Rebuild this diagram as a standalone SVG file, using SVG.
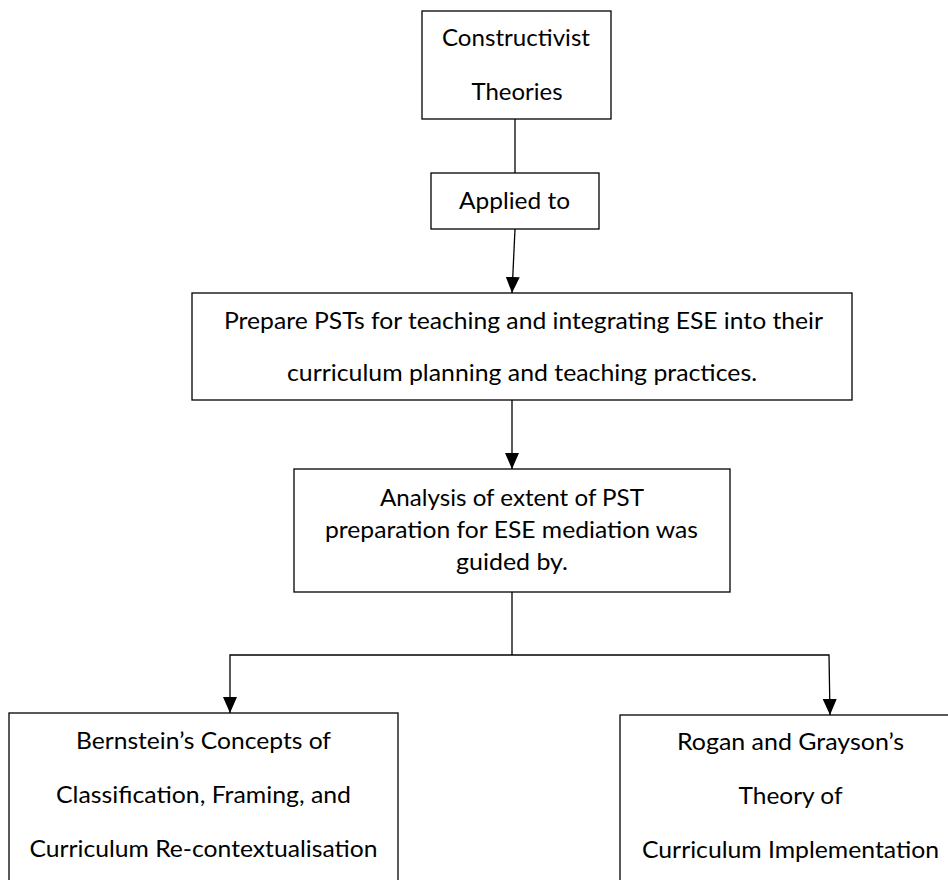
<svg xmlns="http://www.w3.org/2000/svg" width="948" height="880" viewBox="0 0 948 880">
<style>
.box{fill:#fff;stroke:#000;stroke-width:1.3}
.t{font-family:Lato,"Open Sans","Liberation Sans",sans-serif;font-size:24px;fill:#000;text-anchor:middle}
.c{fill:none;stroke:#000;stroke-width:1.3}
</style>
<defs>
<marker id="ah" markerUnits="userSpaceOnUse" markerWidth="14" markerHeight="16" refX="7" refY="15" orient="auto-start-reverse" viewBox="0 0 14 16">
<path d="M0,0 L14,0 L7,15 Z" fill="#000" transform="rotate(-90 7 8)"/>
</marker>
<marker id="arr" markerUnits="userSpaceOnUse" markerWidth="16" markerHeight="14" refX="16" refY="7" orient="auto" viewBox="0 0 16 14">
<path d="M0,0 L16,7 L0,14 Z" fill="#000"/>
</marker>
</defs>
<rect width="948" height="880" fill="#fff"/>
<g id="connectors">
<line class="c" x1="515" y1="119" x2="515" y2="173"/>
<line class="c" x1="515" y1="229" x2="512" y2="293" marker-end="url(#arr)"/>
<line class="c" x1="512" y1="400" x2="512" y2="469" marker-end="url(#arr)"/>
<polyline class="c" points="512,592 512,655"/>
<polyline class="c" points="512,655 230,655 230,713" marker-end="url(#arr)"/>
<polyline class="c" points="512,655 829,655 830,715" marker-end="url(#arr)"/>
</g>
<g id="constructivist">
<rect class="box" x="422" y="11" width="189" height="108"/>
<text class="t" x="516" y="46" textLength="148" lengthAdjust="spacingAndGlyphs">Constructivist</text>
<text class="t" x="517" y="100" textLength="91" lengthAdjust="spacingAndGlyphs">Theories</text>
</g>
<g id="applied">
<rect class="box" x="431" y="173" width="168" height="56"/>
<text class="t" x="514.5" y="209" textLength="111" lengthAdjust="spacingAndGlyphs">Applied to</text>
</g>
<g id="prepare">
<rect class="box" x="192" y="293" width="660" height="107"/>
<text class="t" x="523.5" y="329" textLength="599" lengthAdjust="spacingAndGlyphs">Prepare PSTs for teaching and integrating ESE into their</text>
<text class="t" x="522" y="381" textLength="470" lengthAdjust="spacingAndGlyphs">curriculum planning and teaching practices.</text>
</g>
<g id="analysis">
<rect class="box" x="294" y="469" width="436" height="123"/>
<text class="t" x="512" y="506" textLength="264" lengthAdjust="spacingAndGlyphs">Analysis of extent of PST</text>
<text class="t" x="511.5" y="538" textLength="373" lengthAdjust="spacingAndGlyphs">preparation for ESE mediation was</text>
<text class="t" x="512" y="570" textLength="112" lengthAdjust="spacingAndGlyphs">guided by.</text>
</g>
<g id="bernstein">
<rect class="box" x="9" y="713" width="389" height="190"/>
<text class="t" x="203.5" y="749" textLength="255" lengthAdjust="spacingAndGlyphs">Bernstein’s Concepts of</text>
<text class="t" x="203.5" y="803" textLength="295" lengthAdjust="spacingAndGlyphs">Classification, Framing, and</text>
<text class="t" x="203.5" y="857" textLength="348" lengthAdjust="spacingAndGlyphs">Curriculum Re-contextualisation</text>
</g>
<g id="rogan">
<rect class="box" x="620" y="715" width="341" height="190"/>
<text class="t" x="790.5" y="750" textLength="227" lengthAdjust="spacingAndGlyphs">Rogan and Grayson’s</text>
<text class="t" x="790.5" y="804" textLength="104" lengthAdjust="spacingAndGlyphs">Theory of</text>
<text class="t" x="790.5" y="858" textLength="297" lengthAdjust="spacingAndGlyphs">Curriculum Implementation</text>
</g>
</svg>
